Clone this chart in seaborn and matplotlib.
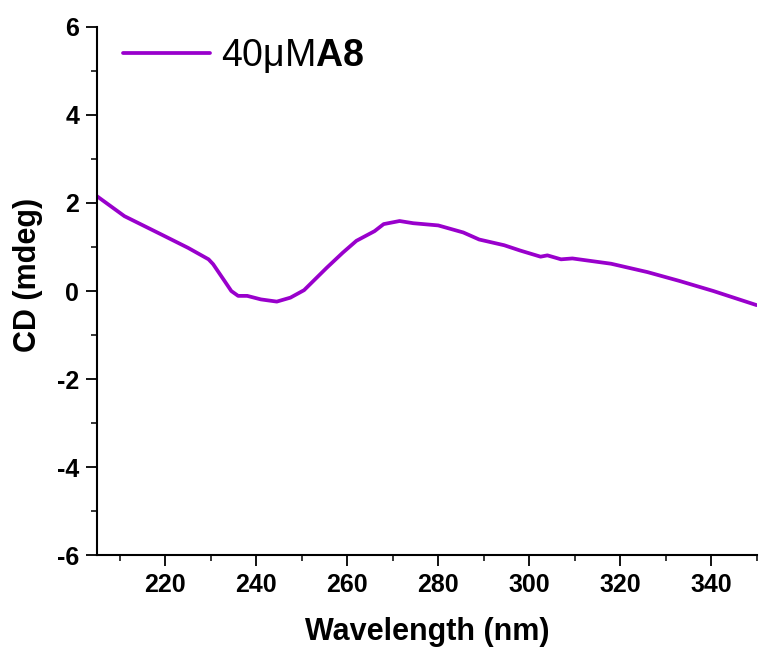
import matplotlib
matplotlib.use("Agg")
import matplotlib.pyplot as plt
import seaborn as sns
import pandas as pd
from matplotlib.ticker import MultipleLocator

wavelength = [205, 211, 219, 225, 229.5, 230.5, 233, 234.5, 236, 238, 241, 244.5,
              247.5, 250.5, 255.5, 259, 262, 266, 268, 271.5, 274.5, 280, 285.5,
              289, 294.5, 298, 302.5, 304, 307, 309.5, 318, 326, 333, 340.5, 350]
cd = [2.15, 1.70, 1.29, 0.98, 0.72, 0.61, 0.23, 0.00, -0.11, -0.11, -0.19, -0.24,
      -0.15, 0.02, 0.53, 0.87, 1.14, 1.36, 1.52, 1.59, 1.54, 1.49, 1.33,
      1.17, 1.04, 0.92, 0.78, 0.81, 0.72, 0.74, 0.62, 0.43, 0.23, 0.00, -0.32]
series_label = "40\u03bcM$\\mathbf{A8}$"
x_ticks = [220, 240, 260, 280, 300, 320, 340]
y_ticks = [-6, -4, -2, 0, 2, 4, 6]

sns.set_style("ticks")
plt.rcParams['font.family'] = ['Liberation Sans', 'DejaVu Sans']
plt.rcParams['mathtext.fontset'] = 'custom'
plt.rcParams['mathtext.rm'] = 'Liberation Sans'
plt.rcParams['mathtext.bf'] = 'Liberation Sans:bold'
plt.rcParams['axes.unicode_minus'] = False
plt.rcParams['text.color'] = 'black'
plt.rcParams['axes.labelcolor'] = 'black'

df = pd.DataFrame({"Wavelength": wavelength, "CD": cd})

fig = plt.figure(figsize=(7.65, 6.54), dpi=100)
ax = fig.add_axes([0.127, 0.151, 0.862, 0.808])

sns.lineplot(data=df, x="Wavelength", y="CD", color="#9900cc", lw=2.7,
             label=series_label, ax=ax)

ax.set_xlim(205, 350)
ax.set_ylim(-6, 6)
ax.set_xticks(x_ticks)
ax.set_yticks(y_ticks)
ax.xaxis.set_minor_locator(MultipleLocator(10))
ax.yaxis.set_minor_locator(MultipleLocator(1))

for side in ["top", "right"]:
    ax.spines[side].set_visible(False)
for side in ["left", "bottom"]:
    ax.spines[side].set_linewidth(1.5)
    ax.spines[side].set_color("black")

ax.tick_params(which="major", direction="out", length=8, width=1.3, pad=5,
               labelsize=18, colors="black")
ax.tick_params(which="minor", direction="out", length=4.5, width=1.3)
for lab in ax.get_xticklabels() + ax.get_yticklabels():
    lab.set_fontweight("bold")

ax.set_xlabel("Wavelength (nm)", fontsize=22, fontweight="bold", labelpad=14,
              color="black")
ax.set_ylabel("CD (mdeg)", fontsize=22, fontweight="bold", color="black")
ax.yaxis.set_label_coords(-0.082, 0.53)

leg = ax.legend(frameon=False, loc="upper left", fontsize=27,
                handlelength=2.3, handletextpad=0.3,
                bbox_to_anchor=(0.0, 1.03), borderaxespad=0.3)
for t in leg.get_texts():
    t.set_color("black")

fig.savefig("out.png", dpi=100)
